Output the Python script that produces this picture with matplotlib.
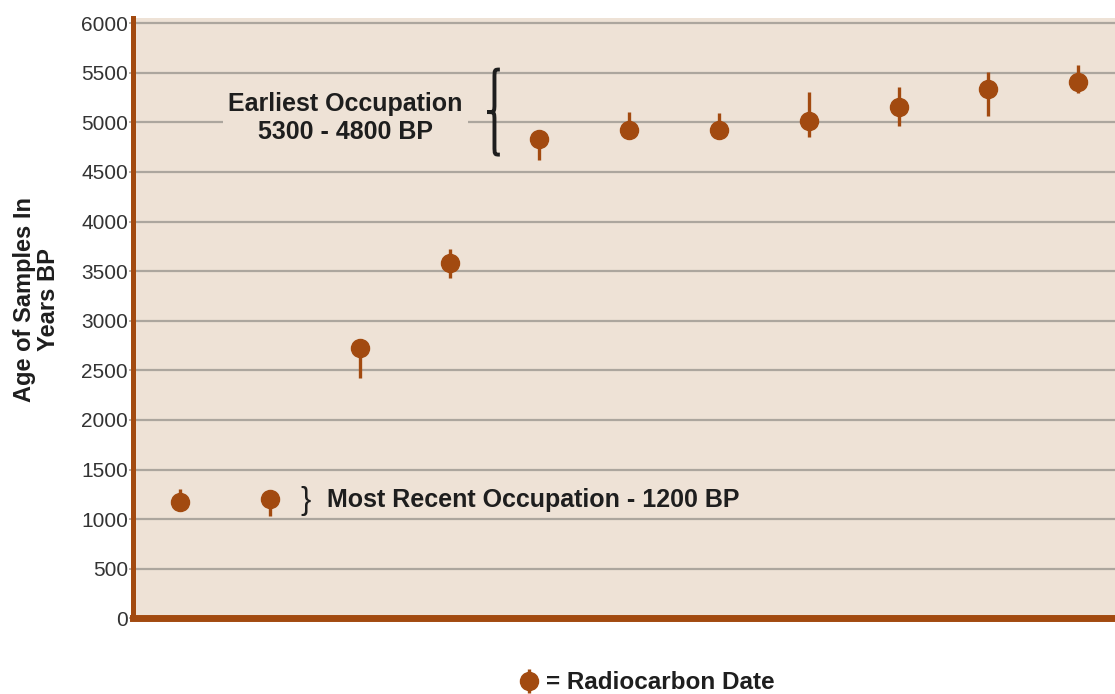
import matplotlib.pyplot as plt
from matplotlib.path import Path
from matplotlib.patches import PathPatch

# sample order along the x axis
samples = [1, 2, 3, 4, 5, 6, 7, 8, 9, 10, 11]
# radiocarbon ages (years BP) and the ends of each error bar
ages = [1170, 1205, 2728, 3584, 4835, 4926, 4926, 5017, 5158, 5340, 5410]
upper = [1300, 1255, 2778, 3726, 4885, 5108, 5098, 5309, 5360, 5511, 5581]
lower = [1090, 1034, 2425, 3433, 4624, 4876, 4876, 4855, 4967, 5068, 5299]
yticks = [0, 500, 1000, 1500, 2000, 2500, 3000, 3500, 4000, 4500, 5000, 5500, 6000]

brown = "#a24a10"
beige = "#eee2d6"
grid_col = "#aca69e"
txt = "#1e1e1e"

plt.rcParams["font.family"] = ["Liberation Sans", "DejaVu Sans"]

fig = plt.figure(figsize=(11.15, 6.94), dpi=100)
ax = fig.add_axes([0.1197, 0.1088, 1 - 0.1197, 0.974 - 0.1088])
ax.set_facecolor(beige)

yerr = [[a - lo for a, lo in zip(ages, lower)], [hi - a for a, hi in zip(ages, upper)]]
eb = ax.errorbar(samples, ages, yerr=yerr, fmt="o", color=brown, ms=13,
                 elinewidth=2.4, capsize=0, zorder=4, label="= Radiocarbon Date")

ax.set_xlim(0.48, 11.41)
ax.set_ylim(0, 6050)
ax.set_yticks(yticks)
ax.set_xticks([])
for t in yticks[1:]:
    ax.axhline(t, color=grid_col, lw=1.6, zorder=1)

for s in ["top", "right"]:
    ax.spines[s].set_visible(False)
ax.spines["left"].set_color(brown)
ax.spines["left"].set_linewidth(3.6)
ax.spines["bottom"].set_color(brown)
ax.spines["bottom"].set_linewidth(5)
ax.spines["left"].set_zorder(5)
ax.spines["bottom"].set_zorder(5)
ax.tick_params(axis="y", length=3, width=1.2, color=grid_col, pad=1,
               labelsize=15, labelcolor="#333333")

fig.text(0.0325, 0.568, "Age of Samples In\nYears BP", rotation=90, ha="center",
         va="center", fontsize=17, fontweight="bold", color=txt, linespacing=1.08,
         multialignment="center")

ax.text(2.84, 5045, "Earliest Occupation\n5300 - 4800 BP", ha="center", va="center",
        fontsize=18, fontweight="bold", color=txt, linespacing=1.2, zorder=3,
        bbox=dict(boxstyle="square,pad=0.2", fc=beige, ec="none"))

# curly brace next to the earliest group
xl, xm, xr = 4.42, 4.50, 4.56
yt, yb = 5531, 4674
ym = (yt + yb) / 2
d = 90
verts = [(xr, yt), (xm, yt), (xm, yt), (xm, yt - d),
         (xm, ym + d),
         (xm, ym), (xm, ym), (xl, ym),
         (xm, ym), (xm, ym), (xm, ym - d),
         (xm, yb + d),
         (xm, yb), (xm, yb), (xr, yb)]
codes = [Path.MOVETO, Path.CURVE4, Path.CURVE4, Path.CURVE4,
         Path.LINETO,
         Path.CURVE4, Path.CURVE4, Path.CURVE4,
         Path.CURVE4, Path.CURVE4, Path.CURVE4,
         Path.LINETO,
         Path.CURVE4, Path.CURVE4, Path.CURVE4]
ax.add_patch(PathPatch(Path(verts, codes), fc="none", ec=txt, lw=2.8, zorder=3))

ax.text(2.34, 1180, "}", ha="left", va="center", fontsize=22, color=txt)
ax.text(2.63, 1195, "Most Recent Occupation - 1200 BP", ha="left", va="center",
        fontsize=18, fontweight="bold", color=txt)

leg = fig.legend(handles=[eb], loc="center", bbox_to_anchor=(0.580, 0.016),
                 frameon=False, handlelength=0.8, handletextpad=0.3,
                 prop={"size": 17.5, "weight": "bold"})
for t in leg.get_texts():
    t.set_color(txt)

fig.savefig("out.png", dpi=100)
